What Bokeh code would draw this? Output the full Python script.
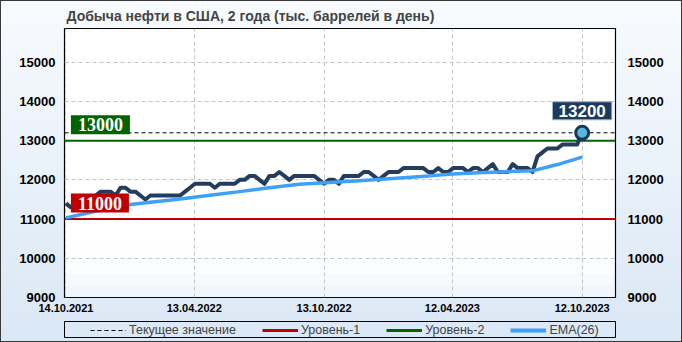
import pandas as pd
from bokeh.plotting import figure
from bokeh.layouts import column
from bokeh.models import (Range1d, LinearAxis, FixedTicker, Span, Label, Legend,
                          LegendItem, DatetimeTickFormatter, BoxAnnotation)
from bokeh.embed import file_html
from bokeh.resources import INLINE

title_text = "Добыча нефти  в США,  2 года (тыс. баррелей в день)"
start_date = "2021-10-14"
production = [11400, 11300, 11300, 11500, 11500, 11500, 11600, 11700, 11700, 11700,
              11600, 11800, 11800, 11700, 11700, 11600, 11500, 11600, 11600, 11600,
              11600, 11600, 11600, 11600, 11700, 11800, 11900, 11900, 11900, 11900,
              11800, 11900, 11900, 11900, 11900, 12000, 12000, 12100, 12100, 12000,
              11900, 12100, 12100, 12200, 12100, 12000, 12100, 12100, 12100, 12100,
              12100, 12000, 11900, 12000, 12000, 11900, 12100, 12100, 12100, 12100,
              12200, 12200, 12100, 12000, 12100, 12200, 12200, 12200, 12300, 12300,
              12300, 12300, 12300, 12200, 12200, 12300, 12200, 12200, 12300, 12300,
              12300, 12200, 12300, 12300, 12200, 12300, 12400, 12200, 12200, 12200,
              12400, 12300, 12300, 12300, 12200, 12600, 12700, 12800, 12800, 12800,
              12900, 12900, 12900, 12900, 13200]
ema_weeks = [0, 6, 13, 17, 23, 29, 35, 41, 47, 53, 59, 65, 71, 77, 83, 89, 94, 99, 104]
ema_values = [11030, 11200, 11370, 11430, 11510, 11610, 11700, 11800, 11890, 11930,
              11980, 12030, 12080, 12140, 12180, 12210, 12230, 12390, 12580]
x_tick_labels = ["14.10.2021", "13.04.2022", "13.10.2022", "12.04.2023", "12.10.2023"]
y_ticks = [9000, 10000, 11000, 12000, 13000, 14000, 15000]
level_1 = 11000
level_2 = 13000
current_value = production[-1]
legend_labels = ["Текущее значение", "Уровень-1", "Уровень-2", "EMA(26)"]

dates = pd.date_range(start_date, periods=len(production), freq="7D")
ema_dates = dates[ema_weeks]
tick_dates = pd.to_datetime(x_tick_labels, format="%d.%m.%Y")
tick_ms = [int(t.value // 10**6) for t in tick_dates]
first_ms = int(dates[0].value // 10**6)
last_ms = int(dates[-1].value // 10**6)

NAVY = "#243d5c"
EMA_C = "#3fa0f7"
RED = "#c00000"
GREEN = "#006400"
FONT = "Liberation Sans"

p = figure(width=680, height=318, x_axis_type="datetime",
           x_range=Range1d(dates[0] - pd.Timedelta(days=2), dates[-1] + pd.Timedelta(days=47)),
           y_range=Range1d(9000, 15860),
           output_backend="svg", toolbar_location=None,
           min_border_left=63, min_border_right=66, min_border_top=26, min_border_bottom=22)
p.border_fill_alpha = 0
p.background_fill_color = "white"
p.outline_line_color = "black"
p.outline_line_width = 1.2

p.title.text = title_text
p.title.text_font = FONT
p.title.text_font_size = "14px"
p.title.text_font_style = "bold"
p.title.align = "left"
p.title.offset = 2
p.title.standoff = 9

# soft fade at the bottom of the plot area
fade_steps = [(9000, 9300, 0.10), (9000, 9600, 0.07), (9000, 9900, 0.05), (9000, 10300, 0.04)]
for b, t, a in fade_steps:
    p.add_layout(BoxAnnotation(bottom=b, top=t, fill_color="#c9dcf5", fill_alpha=a,
                               line_color=None, level="image"))

# axes
p.xaxis.ticker = FixedTicker(ticks=tick_ms)
p.xaxis.formatter = DatetimeTickFormatter(days="%d.%m.%Y", months="%d.%m.%Y",
                                          years="%d.%m.%Y", hours="%d.%m.%Y")
p.yaxis.ticker = FixedTicker(ticks=y_ticks)
p.add_layout(LinearAxis(ticker=FixedTicker(ticks=y_ticks)), "right")
for ax in p.axis:
    ax.axis_line_color = None
    ax.major_tick_line_color = None
    ax.minor_tick_line_color = None
    ax.major_tick_out = 0
    ax.major_tick_in = 0
    ax.major_label_text_font = FONT
    ax.major_label_text_font_style = "bold"
    ax.major_label_text_color = "black"
p.xaxis.major_label_text_font_size = "11px"
p.xaxis.major_label_standoff = 6
for ax in p.yaxis:
    ax.major_label_text_font_size = "13px"
p.yaxis[0].major_label_standoff = 9
p.yaxis[1].major_label_standoff = 12

p.xgrid.ticker = FixedTicker(ticks=tick_ms)
p.ygrid.ticker = FixedTicker(ticks=y_ticks)
for g in (p.xgrid, p.ygrid):
    g.grid_line_color = "#c4c4c4"
    g.grid_line_dash = "4 3"
    g.grid_line_width = 1

# level lines (under the data)
p.add_layout(Span(location=level_1, dimension="width", line_color=RED, line_width=2,
                  level="underlay"))
p.add_layout(Span(location=level_2, dimension="width", line_color=GREEN, line_width=2,
                  level="underlay"))
p.add_layout(Span(location=current_value, dimension="width", line_color="black",
                  line_width=1, line_dash="4 3", level="underlay"))

# data
p.line(dates, production, line_color=NAVY, line_width=4, line_join="round")
p.line(ema_dates, ema_values, line_color=EMA_C, line_width=3.5, line_join="round")
p.scatter([dates[-1]], [current_value], size=13, fill_color="#5cb6d8",
          line_color="#18375c", line_width=3)

# labels
def level_label(y, txt, color):
    return Label(x=first_ms, y=y, text=txt, x_offset=5, y_offset=16,
                 text_align="left", text_baseline="middle",
                 text_font="Liberation Serif", text_font_style="bold",
                 text_font_size="18px", text_color="white",
                 background_fill_color=color,
                 padding=dict(left=7, right=7, top=3, bottom=3))

p.add_layout(level_label(level_2, str(level_2), GREEN))
p.add_layout(level_label(level_1, str(level_1), RED))
p.add_layout(Label(x=last_ms, y=current_value, text=str(current_value),
                   x_offset=0, y_offset=22, text_align="center", text_baseline="middle",
                   text_font=FONT, text_font_style="bold", text_font_size="17px",
                   text_color="white", background_fill_color="#1b3a5e",
                   border_line_color="#9fb4cc", border_line_width=1,
                   padding=dict(left=6, right=6, top=3, bottom=3)))

# legend strip (its frame is the legend box, aligned with the plot frame)
lg = figure(width=680, height=22, x_range=Range1d(0, 1), y_range=Range1d(0, 1),
            x_axis_location=None, y_axis_location=None,
            output_backend="svg", toolbar_location=None,
            min_border_left=63, min_border_right=66, min_border_top=2, min_border_bottom=4)
lg.title.visible = False
lg.grid.visible = False
lg.border_fill_alpha = 0
lg.background_fill_alpha = 0
lg.outline_line_color = "black"
lg.outline_line_width = 1

# legend sample renderers: their points lie outside the strip's range, so only
# the legend swatches are seen
off = dict(x=[2, 3], y=[2, 3])
r_cur = lg.line(off["x"], off["y"], line_color="black", line_width=1, line_dash="4 3")
r_l1 = lg.line(off["x"], off["y"], line_color=RED, line_width=3)
r_l2 = lg.line(off["x"], off["y"], line_color=GREEN, line_width=3)
r_ema = lg.line(off["x"], off["y"], line_color=EMA_C, line_width=4)
legend = Legend(items=[LegendItem(label=legend_labels[0], renderers=[r_cur]),
                       LegendItem(label=legend_labels[1], renderers=[r_l1]),
                       LegendItem(label=legend_labels[2], renderers=[r_l2]),
                       LegendItem(label=legend_labels[3], renderers=[r_ema])],
                orientation="horizontal", location=(26, 0),
                label_text_font=FONT, label_text_font_size="12.5px",
                glyph_width=36, glyph_height=10, label_height=12, label_standoff=3,
                spacing=26, padding=1, margin=0,
                border_line_color=None, background_fill_alpha=0)
lg.add_layout(legend, "center")

layout = column(p, lg, spacing=0,
                styles={"border": "1px solid #3a3a3a",
                        "background": "linear-gradient(#f8fbfe, #dae7f5)"})

open("out.html", "w").write(file_html(layout, INLINE))
